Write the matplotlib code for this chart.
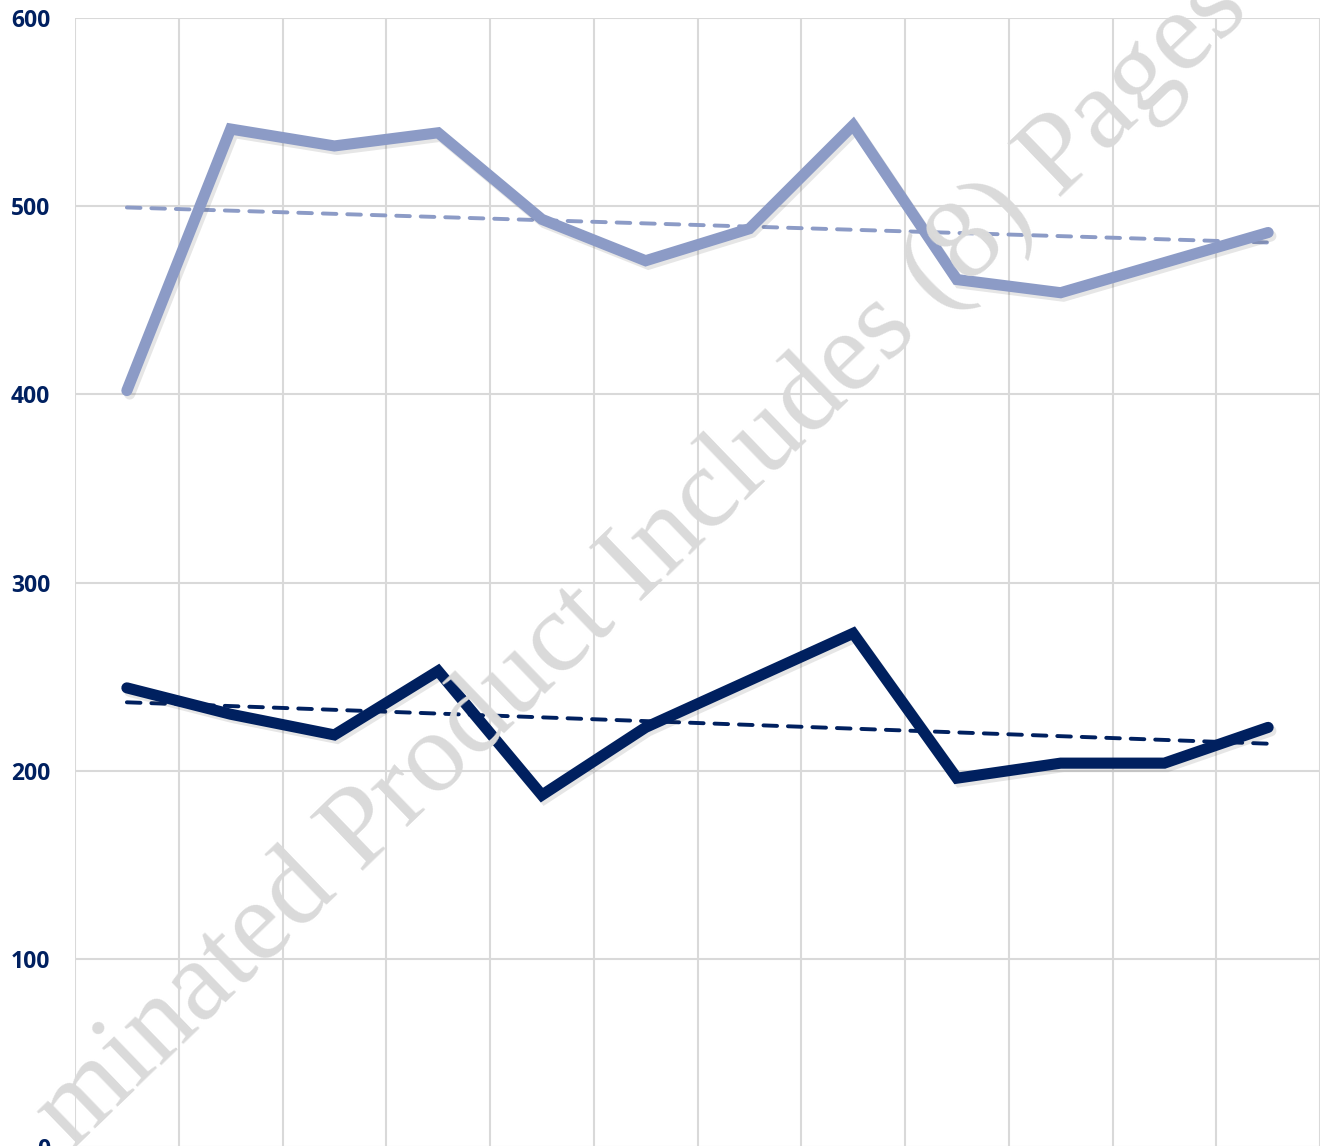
import numpy as np
import matplotlib.pyplot as plt
import matplotlib.patheffects as pe

# Values (12 periods, no category labels shown)
periods = list(range(1, 13))
upper_series = [402, 541, 532, 539, 493, 471, 488, 543, 461, 454, 470, 486]
lower_series = [244, 230, 219, 253, 187, 223, 248, 273, 196, 204, 204, 223]
y_ticks = [0, 100, 200, 300, 400, 500, 600]

light = "#8c9bc6"
dark = "#00205f"
label_color = "#002060"

fig = plt.figure(figsize=(13.24, 11.46), dpi=100)
ax = fig.add_axes([75 / 1324, -1 / 1146, 1245 / 1324, 1129 / 1146])

x = np.array(periods)
ax.set_xlim(0.5, 12.5)
ax.set_ylim(0, 600)

# grid
ax.set_yticks(y_ticks)
ax.set_xticks(np.arange(0.5, 13, 1))
ax.grid(True, color="#d9d9d9", linewidth=1.5)
ax.set_axisbelow(True)
for s in ax.spines.values():
    s.set_visible(False)
ax.tick_params(length=0, labelbottom=False)
for lbl in ax.get_yticklabels():
    lbl.set_fontfamily("Open Sans")
    lbl.set_fontweight("bold")
    lbl.set_fontsize(16.5)
    lbl.set_color(label_color)
ax.tick_params(axis="y", pad=18)

# watermark
fig.text(72 / 1324, 1 - 1150 / 1146, "minated Product Includes (8) Pages",
         rotation=44, rotation_mode="anchor", ha="left", va="baseline",
         fontsize=83, family="Liberation Serif", color="#dadada", zorder=1)

shadow = [pe.SimpleLineShadow(offset=(2, -2.5), alpha=0.12, shadow_color="#333333"),
          pe.Normal()]

# linear trend lines
for ys, c in [(upper_series, light), (lower_series, dark)]:
    k, b = np.polyfit(x, ys, 1)
    ax.plot(x, k * x + b, color=c, linewidth=2.8, dashes=(3.5, 2.8),
            dash_capstyle="round", zorder=3)

ax.plot(x, upper_series, color=light, linewidth=8, solid_capstyle="round",
        solid_joinstyle="miter", path_effects=shadow, zorder=4)
ax.plot(x, lower_series, color=dark, linewidth=8, solid_capstyle="round",
        solid_joinstyle="miter", path_effects=shadow, zorder=5)

fig.savefig("out.png", dpi=100)
